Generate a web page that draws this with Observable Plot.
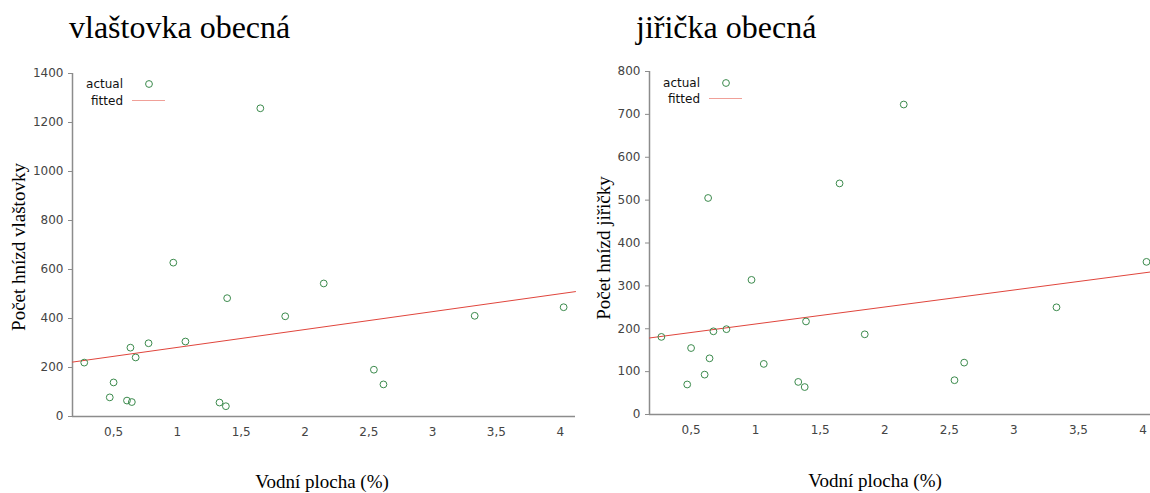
<!DOCTYPE html>
<html>
<head>
<meta charset="utf-8">
<script src="https://cdn.jsdelivr.net/npm/d3@7"></script>
<script src="https://cdn.jsdelivr.net/npm/@observablehq/plot@0.6"></script>
<style>
  html, body { margin: 0; padding: 0; background: #fff; }
  body { width: 1150px; height: 493px; overflow: hidden; position: relative; font-family: "DejaVu Sans", sans-serif; }
  .chart { position: absolute; top: 0; }
  .chart svg { max-width: none !important; height: 493px !important; display: block; }
  .title { position: absolute; font-family: "Liberation Serif", serif; font-size: 32px; line-height: 1; color: #000; white-space: nowrap; }
  .ylab, .xlab { position: absolute; font-family: "Liberation Serif", serif; font-size: 19px; line-height: 1; color: #000; white-space: nowrap; }
  .ylab { transform: translate(-50%, -50%) rotate(-90deg); }
  .xlab { transform: translate(-50%, -50%); }
  .legtext { position: absolute; font-family: "DejaVu Sans", sans-serif; font-size: 12px; line-height: 14px; color: #111; text-align: right; width: 60px; }
  .legsym { position: absolute; overflow: visible; }
</style>
</head>
<body>
<script>
// ---- data ----
const vodniPlocha = [0.27, 0.47, 0.50, 0.605, 0.632, 0.643, 0.673, 0.774, 0.968, 1.063, 1.33, 1.38, 1.39, 1.65, 1.845, 2.147, 2.54, 2.615, 3.33, 4.027];
const vlastovka  = [220, 78, 139, 65, 281, 59, 241, 299, 628, 306, 57, 42, 483, 1258, 409, 543, 191, 131, 411, 446];
const jiricka    = [181, 70, 155, 93, 505, 131, 194, 199, 314, 118, 76, 64, 217, 539, 187, 723, 80, 121, 250, 356];
const xTicks = [0.5, 1, 1.5, 2, 2.5, 3, 3.5, 4];
const yTicksVlastovka = [0, 200, 400, 600, 800, 1000, 1200, 1400];
const yTicksJiricka = [0, 100, 200, 300, 400, 500, 600, 700, 800];
const xDomain = [0.178, 4.12];
const titles = ["vlaštovka obecná", "jiřička obecná"];
const yLabels = ["Počet hnízd vlaštovky", "Počet hnízd jiřičky"];
const xLabel = "Vodní plocha (%)";
const legendLabels = ["actual", "fitted"];

const dotColor = "#3b8a4c";
const lineColor = "#e0453c";
const axisColor = "#8c8c8c";

function fitLine(xs, ys) {
  const mx = d3.mean(xs), my = d3.mean(ys);
  const sxy = d3.sum(xs, (x, i) => (x - mx) * (ys[i] - my));
  const sxx = d3.sum(xs, x => (x - mx) ** 2);
  const b = sxy / sxx, a = my - b * mx;
  return xDomain.map(x => ({x, y: a + b * x}));
}

function makeChart(cfg) {
  const data = vodniPlocha.map((x, i) => ({x, y: cfg.values[i]}));
  const fit = fitLine(vodniPlocha, cfg.values);
  const yMax = d3.max(cfg.yTicks);
  const svg = Plot.plot({
    width: cfg.width,
    height: 493,
    marginLeft: 72,
    marginRight: 0,
    marginTop: cfg.marginTop,
    marginBottom: cfg.marginBottom,
    style: {fontFamily: "DejaVu Sans, sans-serif", fontSize: "12px", background: "transparent", overflow: "visible", maxWidth: "none"},
    x: {domain: xDomain},
    y: {domain: [0, yMax]},
    marks: [
      Plot.ruleY([0], {stroke: axisColor, strokeWidth: 1.5}),
      Plot.ruleX([xDomain[0]], {stroke: axisColor, strokeWidth: 1.5}),
      Plot.axisY(cfg.yTicks, {tickSize: 4, tickPadding: 5, stroke: axisColor, fill: "#444", fontSize: 12, label: null,
        tickFormat: d => String(d)}),
      Plot.axisX(xTicks, {tickSize: 0, tickPadding: 11, fill: "#444", fontSize: 12, label: null,
        tickFormat: d => String(d).replace(".", ",")}),
      Plot.line(fit, {x: "x", y: "y", stroke: lineColor, strokeWidth: 1}),
      Plot.dot(data, {x: "x", y: "y", r: 3.4, stroke: dotColor, strokeWidth: 1, fill: "none"})
    ]
  });
  const wrap = document.createElement("div");
  wrap.className = "chart";
  wrap.style.left = cfg.left + "px";
  wrap.style.width = cfg.width + "px";
  svg.style.width = cfg.width + "px";
  wrap.appendChild(svg);
  document.body.appendChild(wrap);

  const t = document.createElement("div");
  t.className = "title"; t.textContent = cfg.title;
  t.style.left = cfg.titleX + "px"; t.style.top = "11px";
  document.body.appendChild(t);

  const yl = document.createElement("div");
  yl.className = "ylab"; yl.textContent = cfg.yLabel;
  yl.style.left = cfg.yLabX + "px"; yl.style.top = cfg.yLabY + "px";
  document.body.appendChild(yl);

  const xl = document.createElement("div");
  xl.className = "xlab"; xl.textContent = xLabel;
  xl.style.left = cfg.xLabX + "px"; xl.style.top = cfg.xLabY + "px";
  document.body.appendChild(xl);

  // legend
  const L = cfg.legend;
  legendLabels.forEach((lab, i) => {
    const cy = i === 0 ? L.y1 : L.y2;
    const tx = document.createElement("div");
    tx.className = "legtext"; tx.textContent = lab;
    tx.style.left = (L.textEnd - 60) + "px"; tx.style.top = (cy - 7) + "px";
    document.body.appendChild(tx);
  });
  const ns = "http://www.w3.org/2000/svg";
  const s = document.createElementNS(ns, "svg");
  s.setAttribute("class", "legsym");
  s.setAttribute("width", 60); s.setAttribute("height", 40);
  s.style.left = L.symX + "px"; s.style.top = (L.y1 - 10) + "px";
  const c = document.createElementNS(ns, "circle");
  c.setAttribute("cx", L.circleX - L.symX); c.setAttribute("cy", 10); c.setAttribute("r", 3.4);
  c.setAttribute("fill", "none"); c.setAttribute("stroke", dotColor); c.setAttribute("stroke-width", 1);
  s.appendChild(c);
  const ln = document.createElementNS(ns, "line");
  ln.setAttribute("x1", L.lineX1 - L.symX); ln.setAttribute("x2", L.lineX2 - L.symX);
  ln.setAttribute("y1", 10 + (L.y2 - L.y1) - 0.5); ln.setAttribute("y2", 10 + (L.y2 - L.y1) - 0.5);
  ln.setAttribute("stroke", "#f0a098"); ln.setAttribute("stroke-width", 1);
  s.appendChild(ln);
  document.body.appendChild(s);
}

makeChart({
  values: vlastovka, yTicks: yTicksVlastovka, left: 0, width: 575,
  marginTop: 73, marginBottom: 77,
  title: titles[0], titleX: 69, yLabel: yLabels[0], yLabX: 18, yLabY: 247,
  xLabX: 322, xLabY: 481,
  legend: {textEnd: 123, y1: 84, y2: 101, symX: 120, circleX: 149, lineX1: 132, lineX2: 165}
});
makeChart({
  values: jiricka, yTicks: yTicksJiricka, left: 577, width: 581,
  marginTop: 71, marginBottom: 79,
  title: titles[1], titleX: 636, yLabel: yLabels[1], yLabX: 603, yLabY: 248,
  xLabX: 875, xLabY: 480,
  legend: {textEnd: 700, y1: 83, y2: 99, symX: 700, circleX: 726, lineX1: 709, lineX2: 742}
});
</script>
</body>
</html>
